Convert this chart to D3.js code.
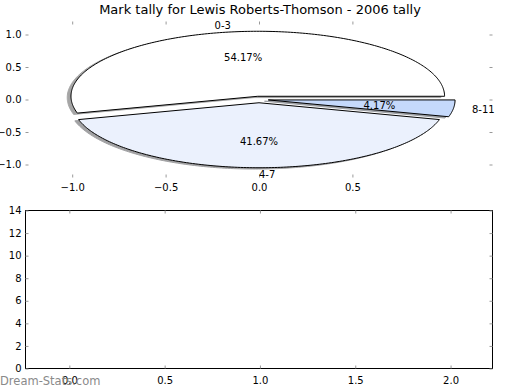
<!DOCTYPE html>
<html>
<head>
<meta charset="utf-8">
<script src="https://cdn.jsdelivr.net/npm/d3@7"></script>
<style>
body { margin: 0; background: #fff; }
svg text { font-family: "DejaVu Sans", sans-serif; fill: #000; }
.tick line { stroke: #999; }
</style>
</head>
<body>
<div class="container"></div>
<script>
// tally data
var labels = ["0-3", "4-7", "8-11"];
var tallies = [13, 10, 1];
var colors = ["#ffffff", "#ebf1fd", "#c5d9fb"];
var explode = [0.05, 0.05, 0.05];
var pieXTicks = [-1.0, -0.5, 0.0, 0.5];
var pieYTicks = [-1.0, -0.5, 0.0, 0.5, 1.0];
var barXTicks = [0.0, 0.5, 1.0, 1.5, 2.0];
var barYTicks = [0, 2, 4, 6, 8, 10, 12, 14];

var svg = d3.select('.container').append('svg').attr("width", 520).attr("height", 390);
const LEFT = 25.5;
const RIGHT = 492.5;

// ---- top: pie axes ----
var xTop = d3.scaleLinear().domain([-1.25, 1.25]).range([LEFT, RIGHT]);
var yTop = d3.scaleLinear().domain([-1.2, 1.2]).range([177.5, 21.5]);
var fmt = d3.format(".1f");

svg.append("text").attr("x", 260).attr("y", 14).attr("text-anchor", "middle")
  .style("font-size", "13px").text("Mark tally for Lewis Roberts-Thomson - 2006 tally");

var drawAxis = function(axis, tx, ty) {
  var g = svg.append("g").attr("transform", "translate(" + tx + "," + ty + ")").call(axis);
  g.selectAll("text").style("font-size", "10px");
  g.select(".domain").remove();
  return g;
};

drawAxis(d3.axisBottom(xTop).tickValues(pieXTicks).tickFormat(fmt).tickSizeInner(-3).tickSizeOuter(0).tickPadding(6), 0, yTop.range()[0]);
drawAxis(d3.axisTop(xTop).tickValues(pieXTicks).tickFormat("").tickSizeInner(-3).tickSizeOuter(0), 0, yTop.range()[1]);
drawAxis(d3.axisLeft(yTop).tickValues(pieYTicks).tickFormat(fmt).tickSizeInner(-3).tickSizeOuter(0).tickPadding(4), LEFT, 0);
drawAxis(d3.axisRight(yTop).tickValues(pieYTicks).tickFormat("").tickSizeInner(-3).tickSizeOuter(0), RIGHT, 0);

var arcs = d3.pie().sort(null)(tallies);
var total = d3.sum(tallies);
var line = d3.line().x(d => xTop(d[0])).y(d => yTop(d[1])).curve(d3.curveLinearClosed);

var wedgePoints = function(a, i, ox, oy) {
  var mid = (a.startAngle + a.endAngle) / 2;
  var cx = explode[i] * Math.cos(mid) + ox, cy = explode[i] * Math.sin(mid) + oy;
  var pts = [[cx, cy]];
  var n = Math.max(4, Math.ceil((a.endAngle - a.startAngle) * 60));
  for (var k = 0; k <= n; k++) {
    var t = a.startAngle + (a.endAngle - a.startAngle) * k / n;
    pts.push([cx + Math.cos(t), cy + Math.sin(t)]);
  }
  return pts;
};

// shadows
arcs.forEach(function(a, i) {
  var c = d3.rgb(colors[i]);
  var sc = d3.rgb(c.r * 0.3, c.g * 0.3, c.b * 0.3);
  svg.append("path").attr("d", line(wedgePoints(a, i, -0.02, -0.02)))
    .attr("fill", sc).attr("stroke", sc).attr("opacity", 0.5);
});
// wedges
arcs.forEach(function(a, i) {
  svg.append("path").attr("d", line(wedgePoints(a, i, 0, 0)))
    .attr("fill", colors[i]).attr("stroke", "#000").attr("stroke-width", 1);
});
// labels
arcs.forEach(function(a, i) {
  var mid = (a.startAngle + a.endAngle) / 2;
  var lx = (explode[i] + 1.1) * Math.cos(mid), ly = (explode[i] + 1.1) * Math.sin(mid);
  svg.append("text").attr("x", xTop(lx)).attr("y", yTop(ly)).attr("dy", "0.35em")
    .attr("text-anchor", lx < -1e-9 ? "end" : "start")
    .style("font-size", "10px").text(labels[i]);
  var px = (explode[i] + 0.6) * Math.cos(mid), py = (explode[i] + 0.6) * Math.sin(mid);
  svg.append("text").attr("x", xTop(px)).attr("y", yTop(py)).attr("dy", "0.35em")
    .attr("text-anchor", "middle").style("font-size", "10px")
    .text((tallies[i] / total * 100).toFixed(2) + "%");
});

// ---- bottom: empty bar axes ----
var xBot = d3.scaleLinear().domain([-0.23, 2.22]).range([LEFT, RIGHT]);
var yBot = d3.scaleLinear().domain([0, 14]).range([368.5, 210.5]);

svg.append("rect").attr("x", LEFT).attr("y", yBot(14)).attr("width", RIGHT - LEFT)
  .attr("height", yBot(0) - yBot(14)).attr("fill", "none").attr("stroke", "#000");

drawAxis(d3.axisBottom(xBot).tickValues(barXTicks).tickFormat(fmt).tickSizeInner(-3).tickSizeOuter(0).tickPadding(8), 0, yBot(0));
drawAxis(d3.axisTop(xBot).tickValues(barXTicks).tickFormat("").tickSizeInner(-3).tickSizeOuter(0), 0, yBot(14));
drawAxis(d3.axisLeft(yBot).tickValues(barYTicks).tickFormat(d3.format("d")).tickSizeInner(-3).tickSizeOuter(0).tickPadding(4), LEFT, 0);
drawAxis(d3.axisRight(yBot).tickValues(barYTicks).tickFormat("").tickSizeInner(-3).tickSizeOuter(0), RIGHT, 0);

// watermark
svg.append("text").attr("x", 0).attr("y", 385).style("font-size", "11.5px")
  .style("fill", "#8a8a8a").text("Dream-Stats.com");
</script>
</body>
</html>
